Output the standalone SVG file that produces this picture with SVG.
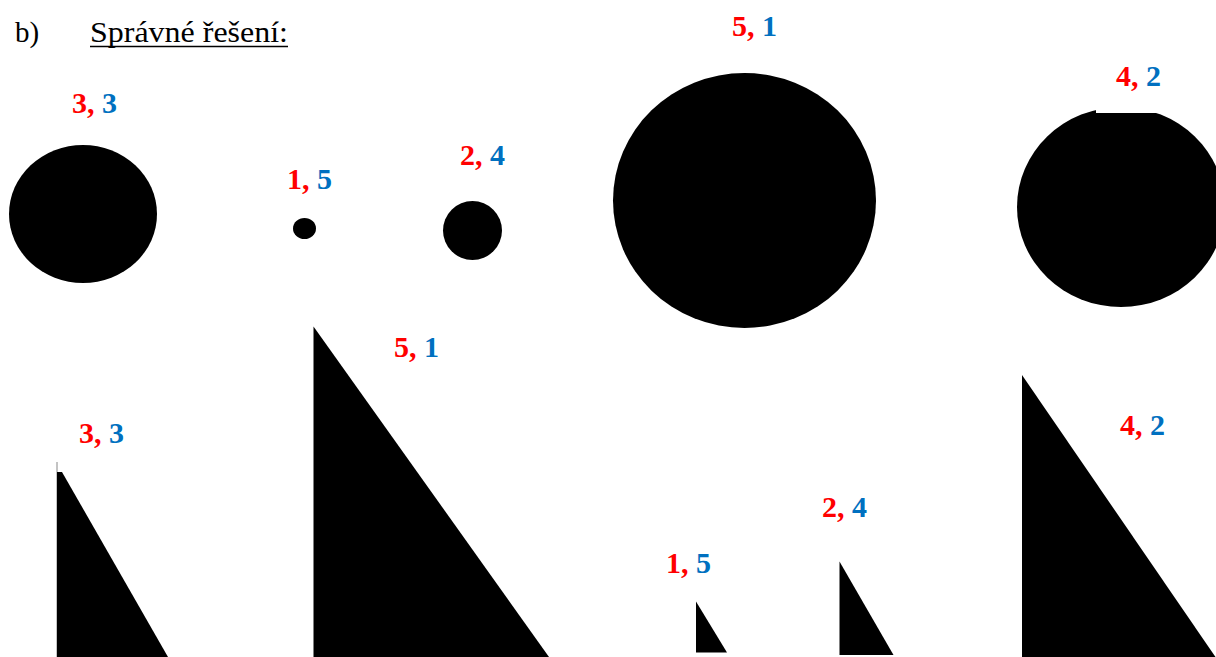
<svg xmlns="http://www.w3.org/2000/svg" width="1216" height="657" viewBox="0 0 1216 657">
<style>
.t{font-family:"Liberation Serif",serif;font-size:29px;fill:#000}
.l{font-family:"Liberation Serif",serif;font-size:30px;font-weight:bold}
.r{fill:#FF0000}
.b{fill:#0070C0}
.s{fill:#000}
</style>
<rect width="1216" height="657" fill="#fff"/>
<g id="title">
<text class="t" x="15" y="42">b)</text>
<text class="t" x="90" y="42" textLength="198" lengthAdjust="spacingAndGlyphs">Správné řešení:</text>
<line x1="90" y1="46.5" x2="288" y2="46.5" stroke="#000" stroke-width="1.5"/>
</g>
<g id="circle-3-3"><ellipse class="s" cx="83" cy="214" rx="74" ry="69"/><text class="l" x="72" y="113"><tspan class="r">3,</tspan><tspan class="b"> 3</tspan></text></g>
<g id="circle-1-5"><ellipse class="s" cx="304.5" cy="228.5" rx="11.5" ry="10.5"/><text class="l" x="287" y="189"><tspan class="r">1,</tspan><tspan class="b"> 5</tspan></text></g>
<g id="circle-2-4"><circle class="s" cx="472.5" cy="230.5" r="29.5"/><text class="l" x="460" y="165"><tspan class="r">2,</tspan><tspan class="b"> 4</tspan></text></g>
<g id="circle-5-1"><ellipse class="s" cx="744.5" cy="200.5" rx="131.5" ry="127.5"/><text class="l" x="732" y="36"><tspan class="r">5,</tspan><tspan class="b"> 1</tspan></text></g>
<g id="circle-4-2"><ellipse class="s" cx="1121" cy="207" rx="104" ry="100"/><rect x="1096" y="100" width="61" height="13" fill="#fff"/><text class="l" x="1116" y="86"><tspan class="r">4,</tspan><tspan class="b"> 2</tspan></text></g>
<g id="triangle-3-3"><line x1="57" y1="462" x2="57" y2="657" stroke="#888" stroke-width="1"/><polygon class="s" points="57,472 62,472 168,657 57,657"/><text class="l" x="79" y="443"><tspan class="r">3,</tspan><tspan class="b"> 3</tspan></text></g>
<g id="triangle-5-1"><polygon class="s" points="313.5,326.5 549,657 313.5,657"/><text class="l" x="394" y="357"><tspan class="r">5,</tspan><tspan class="b"> 1</tspan></text></g>
<g id="triangle-1-5"><polygon class="s" points="696,601.5 727,652.5 696,652.5"/><text class="l" x="666" y="573"><tspan class="r">1,</tspan><tspan class="b"> 5</tspan></text></g>
<g id="triangle-2-4"><polygon class="s" points="839.5,561.5 893.5,655 839.5,655"/><text class="l" x="822" y="517"><tspan class="r">2,</tspan><tspan class="b"> 4</tspan></text></g>
<g id="triangle-4-2"><polygon class="s" points="1022,375 1215.5,657 1022,657"/><text class="l" x="1120" y="435"><tspan class="r">4,</tspan><tspan class="b"> 2</tspan></text></g>
<g id="connectors"/>
</svg>
